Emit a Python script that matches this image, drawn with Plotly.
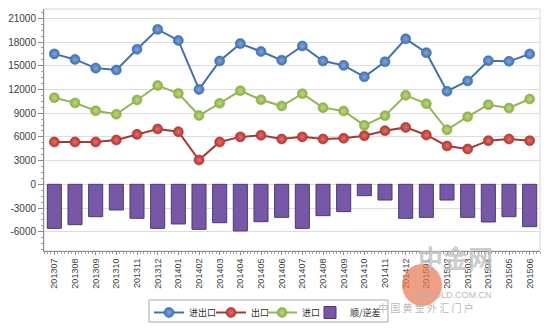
import plotly.graph_objects as go

months = ['201307', '201308', '201309', '201310', '201311', '201312',
          '201401', '201402', '201403', '201404', '201405', '201406',
          '201407', '201408', '201409', '201410', '201411', '201412',
          '201501', '201502', '201503', '201504', '201505', '201506']
total = [16500, 15800, 14700, 14460, 17080, 19600, 18200, 12000, 15600, 17800, 16800, 15700,
         17500, 15600, 15050, 13600, 15500, 18400, 16650, 11770, 13070, 15640, 15560, 16490]
exports = [5350, 5350, 5350, 5600, 6320, 7000, 6650, 3070, 5350, 6000, 6200, 5730,
           6000, 5730, 5820, 6150, 6780, 7200, 6240, 4850, 4470, 5520, 5730, 5520]
imports = [10960, 10300, 9300, 8860, 10670, 12500, 11500, 8700, 10250, 11840, 10700, 9900,
           11460, 9700, 9270, 7460, 8680, 11260, 10200, 6900, 8550, 10070, 9650, 10790]
balance = [-5570, -5110, -4100, -3250, -4300, -5570, -5020, -5700, -4860, -5900, -4730, -4180,
           -5570, -3970, -3460, -1440, -1990, -4300, -4180, -1990, -4180, -4770, -4100, -5360]
y_ticks = [-6000, -3000, 0, 3000, 6000, 9000, 12000, 15000, 18000, 21000]
y_labels = [str(v) for v in y_ticks]

idx = list(range(len(months)))
FONT = "Liberation Sans, Arial, Noto Sans CJK SC"
CJK = "Noto Sans CJK SC, Liberation Sans"

# plot-area geometry in pixels
L, R, T, B = 44, 540, 9, 251
PW, PH = R - L, B - T
def px(xp):
    return (xp - L) / PW
def py(yp):
    return (B - yp) / PH

fig = go.Figure()

def line_trace(name, vals, col, line_col, light, leg):
    return go.Scatter(
        x=idx, y=vals, name=name, mode='lines+markers', legend=leg,
        line=dict(color=line_col, width=2),
        marker=dict(size=10, color=col, line=dict(color=line_col, width=0.6),
                    gradient=dict(type='radial', color=light)),
    )

fig.add_trace(line_trace('进出口', total, '#3F70B0', '#4170AD', '#7FA6DA', 'legend'))
fig.add_trace(line_trace('出口', exports, '#B8322E', '#A33A37', '#DE7370', 'legend2'))
fig.add_trace(line_trace('进口', imports, '#88AE3E', '#93B556', '#BDD98A', 'legend3'))
fig.add_trace(go.Bar(
    x=idx, y=balance, name='顺/逆差', width=0.68, legend='legend4',
    marker=dict(color='#7758A6', line=dict(color='#4B3872', width=1)),
))

# light frame (top/right)
fig.add_shape(type='rect', xref='paper', yref='paper', x0=0, y0=0, x1=1, y1=1,
              line=dict(color='#D4D4D4', width=1), layer='below')

# legend box
fig.add_shape(type='rect', xref='paper', yref='paper',
              x0=px(149), x1=px(388), y0=py(322), y1=py(300),
              line=dict(color='#A8A8A8', width=1), fillcolor='white', layer='below')

# watermark
fig.add_shape(type='circle', xref='paper', yref='paper',
              x0=px(402), x1=px(442), y0=py(306), y1=py(264),
              fillcolor='rgba(232,120,80,0.7)', line=dict(width=0))
fig.add_annotation(x=px(495), y=py(277), xref='paper', yref='paper',
                   text='<b>中金网</b>', showarrow=False,
                   font=dict(family=CJK, size=25, color='rgba(190,190,190,0.8)'))
fig.add_annotation(x=px(494), y=py(302), xref='paper', yref='paper',
                   text='CNGOLD.COM.CN', showarrow=False,
                   font=dict(family=FONT, size=9, color='rgba(175,175,175,0.9)'))
fig.add_annotation(x=px(476), y=py(317), xref='paper', yref='paper',
                   text='中 国 黄 金 外 汇 门 户', showarrow=False,
                   font=dict(family=CJK, size=10, color='rgba(175,175,175,0.9)'))

def leg(xpix):
    return dict(orientation='h', x=px(xpix), xanchor='left',
                y=py(298), yanchor='top', borderwidth=0,
                bgcolor='rgba(0,0,0,0)',
                font=dict(family=CJK, size=9, color='#303030'),
                itemwidth=30)

fig.update_layout(
    width=550, height=330,
    margin=dict(l=L, r=550 - R, t=T, b=330 - B, autoexpand=False),
    paper_bgcolor='white', plot_bgcolor='white',
    font=dict(family=FONT, size=10, color='#404040'),
    showlegend=True,
    legend=leg(149), legend2=leg(211), legend3=leg(262), legend4=leg(310),
    bargap=0.3,
)
fig.update_xaxes(
    range=[-0.5, len(months) - 0.5], tickmode='array', tickvals=idx, ticktext=months,
    tickangle=-90, tickfont=dict(size=9, color='#404040'),
    showgrid=False, zeroline=False,
    showline=True, linecolor='#8C8C8C', linewidth=1,
    ticks='outside', ticklen=3, tickcolor='#8C8C8C',
    minor=dict(dtick=1 / 6, ticks='outside', ticklen=2, tickcolor='#A0A0A0', showgrid=False),
)
fig.update_yaxes(
    range=[-8440, 22180], tickmode='array', tickvals=y_ticks, ticktext=y_labels,
    tickfont=dict(size=10, color='#404040'),
    showgrid=True, gridcolor='#DCDCDC', gridwidth=1, zeroline=False,
    showline=True, linecolor='#8C8C8C', linewidth=1,
    ticks='outside', ticklen=5, tickcolor='#8C8C8C',
    minor=dict(tickvals=[v + d for v in [-9000] + y_ticks for d in (750, 1500, 2250)],
               ticks='outside', ticklen=2, tickcolor='#A0A0A0', showgrid=False),
)

fig.write_html("out.html")
